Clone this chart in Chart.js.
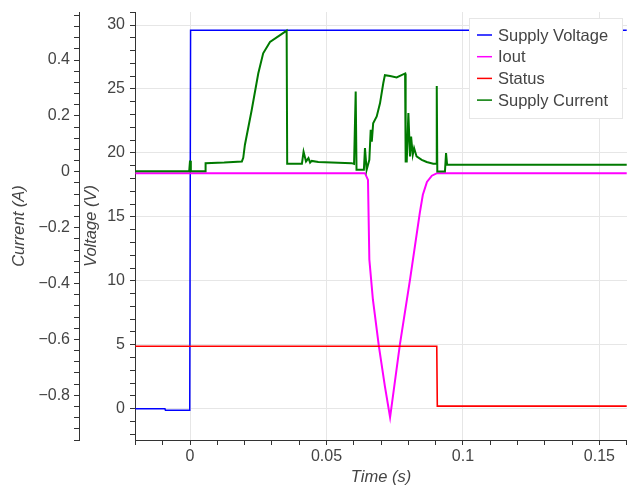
<!DOCTYPE html>
<html>
<head>
<meta charset="utf-8">
<title>Supply / Iout</title>
<script src="https://cdn.jsdelivr.net/npm/chart.js@4.4.0/dist/chart.umd.min.js"></script>
<style>
    html, body { margin: 0; padding: 0; background: #ffffff; }
    canvas { display: block; }
</style>
</head>
<body>
<canvas id="grafico" width="627" height="487"></canvas>
<script>
// tensão de alimentação (V)
const tensaoTempo = [-0.02, -0.0092, -0.0090, -0.0001, 0.0002, 0.16]
const tensaoValor = [0.0, 0.0, -0.13, -0.13, 29.6, 29.6]

// corrente de saída (A)
const ioutTempo = [-0.02, 0.0641, 0.0652, 0.0657, 0.0670, 0.0692, 0.0714, 0.0733, 0.0769, 0.0806, 0.0842, 0.0853, 0.0868, 0.0886, 0.0905, 0.16]
const ioutValor = [-0.005, -0.005, -0.029, -0.314, -0.457, -0.625, -0.768, -0.879, -0.618, -0.386, -0.146, -0.082, -0.036, -0.014, -0.005, -0.005]

// status (V)
const statusTempo = [-0.02, 0.0904, 0.0906, 0.16]
const statusValor = [4.88, 4.88, 0.2, 0.2]

// corrente de alimentação (A)
const correnteTempo = [-0.02, -0.0003, 0.0, 0.0003, 0.0055, 0.0057, 0.0125, 0.0190, 0.0195, 0.0201, 0.0226, 0.0250, 0.0268, 0.0293, 0.0330, 0.0354,
    0.0356, 0.0410, 0.0416, 0.0425, 0.0434, 0.0440, 0.0446, 0.0470, 0.0592, 0.0601, 0.0604, 0.0607, 0.0610, 0.0637, 0.0641, 0.0647,
    0.0657, 0.0662, 0.0666, 0.0671, 0.0684, 0.0696, 0.0708, 0.0714, 0.0733, 0.0757, 0.0775, 0.0788, 0.0790, 0.0794, 0.0800, 0.0806,
    0.0810, 0.0816, 0.0821, 0.0830, 0.0849, 0.0867, 0.0891, 0.0902, 0.0904, 0.0906, 0.0934, 0.0938, 0.0942, 0.16]
const correnteValor = [0.002, 0.002, 0.04, 0.002, 0.002, 0.031, 0.033, 0.037, 0.05, 0.096, 0.221, 0.352, 0.424, 0.465, 0.489, 0.505,
    0.029, 0.029, 0.072, 0.037, 0.049, 0.033, 0.039, 0.035, 0.031, 0.028, 0.028, 0.287, 0.007, 0.007, 0.085, 0.007,
    0.043, 0.15, 0.108, 0.174, 0.198, 0.245, 0.317, 0.346, 0.343, 0.338, 0.346, 0.352, 0.037, 0.037, 0.21, 0.055,
    0.126, 0.061, 0.085, 0.055, 0.043, 0.035, 0.029, 0.029, 0.307, 0.001, 0.001, 0.067, 0.025, 0.025]

// ticks principais com rótulo
const ticksTempo = [0, 0.05, 0.1, 0.15]
const ticksTensao = [0, 5, 10, 15, 20, 25, 30]
const ticksCorrente = [-0.8, -0.6, -0.4, -0.2, 0, 0.2, 0.4]

const corTexto = '#444444'
const corGrade = '#e6e6e6'
const corEixo = '#333333'
const fonte = "'Liberation Sans', Arial, sans-serif"

function pontos(tempos, valores) {
    return tempos.map((t, i) => ({ x: t, y: valores[i] }))
}

// gera os ticks menores entre min e max
function montarTicks(scale, passo, casas) {
    let lista = []
    let inicio = Math.ceil(scale.min / passo - 1e-9)
    let fim = Math.floor(scale.max / passo + 1e-9)
    for (let i = inicio; i <= fim; i++) {
        lista.push({ value: +(i * passo).toFixed(casas) })
    }
    scale.ticks = lista
}

function rotulo(valor, principais) {
    if (!principais.includes(valor)) return ''
    return valor < 0 ? '\u2212' + String(-valor) : String(valor)
}

function corDaGrade(principais) {
    return (ctx) => ctx.tick && principais.includes(ctx.tick.value) ? corGrade : 'rgba(0,0,0,0)'
}

// legenda desenhada dentro da área do gráfico
const legendaInterna = {
    id: 'legendaInterna',
    afterDraw(chart) {
        const ctx = chart.ctx
        const x = 469, y = 18, largura = 153, altura = 100
        ctx.save()
        ctx.fillStyle = '#ffffff'
        ctx.fillRect(x, y, largura, altura)
        ctx.strokeStyle = corGrade
        ctx.lineWidth = 1
        ctx.strokeRect(x + 0.5, y + 0.5, largura, altura)
        ctx.font = "16.5px " + fonte
        ctx.textBaseline = 'middle'
        chart.data.datasets.forEach((ds, i) => {
            const cy = y + 17 + i * 21.7
            ctx.strokeStyle = ds.borderColor
            ctx.lineWidth = 1.5
            ctx.beginPath()
            ctx.moveTo(x + 8, cy)
            ctx.lineTo(x + 23, cy)
            ctx.stroke()
            ctx.fillStyle = corTexto
            ctx.fillText(ds.label, x + 29, cy + 1)
        })
        ctx.restore()
    }
}

const grafico = document.getElementById('grafico')

new Chart(grafico, {
    type: 'line',
    data: {
        datasets: [
            {
                label: 'Supply Voltage',
                data: pontos(tensaoTempo, tensaoValor),
                yAxisID: 'tensao',
                borderColor: '#0000ff',
                borderWidth: 1.5,
                order: 4
            },
            {
                label: 'Iout',
                data: pontos(ioutTempo, ioutValor),
                yAxisID: 'corrente',
                borderColor: '#ff00ff',
                borderWidth: 2,
                order: 3
            },
            {
                label: 'Status',
                data: pontos(statusTempo, statusValor),
                yAxisID: 'tensao',
                borderColor: '#ff0000',
                borderWidth: 1.6,
                order: 2
            },
            {
                label: 'Supply Current',
                data: pontos(correnteTempo, correnteValor),
                yAxisID: 'corrente',
                borderColor: '#007a00',
                borderWidth: 2,
                order: 1
            }
        ]
    },
    options: {
        responsive: false,
        animation: false,
        events: [],
        layout: { padding: { top: 12, left: 0, right: 0, bottom: 0 } },
        elements: {
            point: { radius: 0 },
            line: { tension: 0, fill: false }
        },
        plugins: {
            legend: { display: false },
            tooltip: { enabled: false }
        },
        scales: {
            x: {
                type: 'linear',
                position: 'bottom',
                min: -0.02016,
                max: 0.1601,
                afterBuildTicks: (scale) => montarTicks(scale, 0.01, 2),
                afterFit: (scale) => {
                    scale.height = 47
                    scale.paddingLeft = 0
                    scale.paddingRight = 0
                },
                ticks: {
                    color: corTexto,
                    padding: 2,
                    maxRotation: 0,
                    autoSkip: false,
                    font: { family: fonte, size: 16 },
                    callback: (valor) => rotulo(valor, ticksTempo)
                },
                grid: {
                    color: corDaGrade(ticksTempo),
                    tickColor: corEixo,
                    tickLength: 5
                },
                border: { color: corEixo, width: 1 },
                title: {
                    display: true,
                    text: 'Time (s)',
                    color: corTexto,
                    padding: { top: 0, bottom: 0 },
                    font: { family: fonte, size: 16.5, style: 'italic' }
                }
            },
            tensao: {
                type: 'linear',
                axis: 'y',
                position: 'left',
                weight: 0,
                min: -2.45,
                max: 31.02,
                afterBuildTicks: (scale) => montarTicks(scale, 1, 0),
                afterFit: (scale) => {
                    scale.width = 56
                    scale.paddingTop = 0
                    scale.paddingBottom = 0
                },
                ticks: {
                    color: corTexto,
                    padding: 5,
                    autoSkip: false,
                    font: { family: fonte, size: 16 },
                    callback: (valor) => rotulo(valor, ticksTensao)
                },
                grid: {
                    color: corDaGrade(ticksTensao),
                    tickColor: corEixo,
                    tickLength: 5
                },
                border: { color: corEixo, width: 1 },
                title: {
                    display: true,
                    text: 'Voltage (V)',
                    color: corTexto,
                    padding: { top: 3, bottom: 0 },
                    font: { family: fonte, size: 16.5, style: 'italic' }
                }
            },
            corrente: {
                type: 'linear',
                axis: 'y',
                position: 'left',
                weight: 1,
                min: -0.960,
                max: 0.572,
                afterBuildTicks: (scale) => montarTicks(scale, 0.04, 2),
                afterFit: (scale) => {
                    scale.width = 79
                    scale.paddingTop = 0
                    scale.paddingBottom = 0
                },
                ticks: {
                    color: corTexto,
                    padding: 4,
                    autoSkip: false,
                    font: { family: fonte, size: 16 },
                    callback: (valor) => rotulo(valor, ticksCorrente)
                },
                grid: {
                    drawOnChartArea: false,
                    color: corEixo,
                    tickColor: corEixo,
                    tickLength: 5
                },
                border: { color: corEixo, width: 1 },
                title: {
                    display: true,
                    text: 'Current (A)',
                    color: corTexto,
                    padding: { top: 10, bottom: 0 },
                    font: { family: fonte, size: 16.5, style: 'italic' }
                }
            }
        }
    },
    plugins: [legendaInterna]
})
</script>
</body>
</html>
